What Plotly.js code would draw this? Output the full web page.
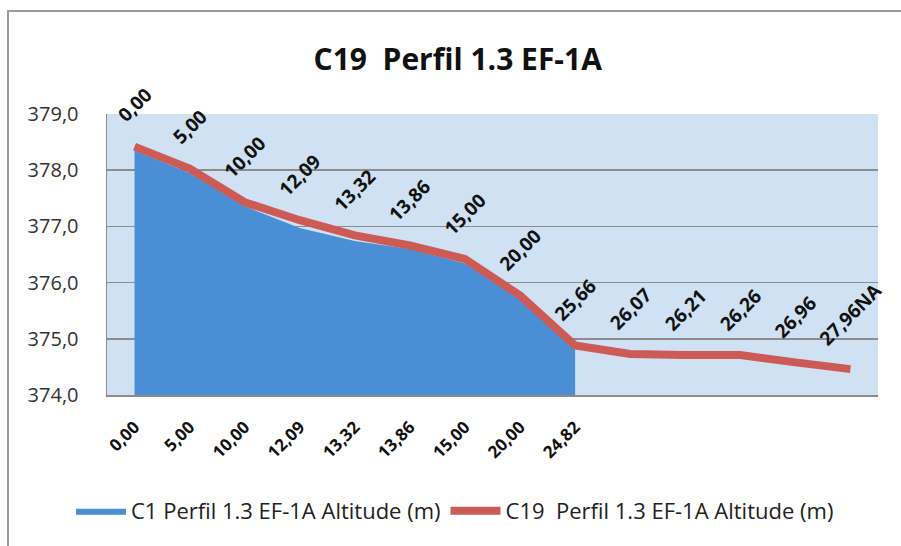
<!DOCTYPE html>
<html>
<head>
<meta charset="utf-8">
<script src="https://cdn.plot.ly/plotly-3.0.1.min.js"></script>
<style>
  html, body { margin: 0; padding: 0; background: #fff; }
  #wrap { position: relative; width: 901px; height: 546px; overflow: hidden; }
  #chart { width: 901px; height: 546px; }
  #frame { position: absolute; left: 7px; top: 10px; width: 1000px; height: 1000px;
           border-left: 2px solid #9c9c9c; border-top: 2px solid #9c9c9c; pointer-events: none; }
</style>
</head>
<body>
<div id="wrap">
  <div id="chart"></div>
  <div id="frame"></div>
</div>
<script>
// Category labels on the bottom axis (first series)
const axisCategories = ['0,00', '5,00', '10,00', '12,09', '13,32', '13,86', '15,00', '20,00', '24,82'];
// Area series: C1 Perfil 1.3 EF-1A Altitude (m)
const c1Altitude = [378.35, 377.95, 377.36, 376.97, 376.74, 376.60, 376.34, 375.70, 374.82];
// Line series data labels: C19 Perfil 1.3 EF-1A Altitude (m)
const c19Labels = ['0,00', '5,00', '10,00', '12,09', '13,32', '13,86', '15,00', '20,00', '25,66', '26,07', '26,21', '26,26', '26,96', '27,96NA'];
const c19Altitude = [378.42, 378.03, 377.43, 377.11, 376.84, 376.66, 376.42, 375.77, 374.88, 374.73, 374.71, 374.71, 374.58, 374.46];
const seriesNames = ['C1 Perfil 1.3 EF-1A Altitude (m)', 'C19\u00a0 Perfil 1.3 EF-1A Altitude (m)'];
const chartTitle = 'C19\u00a0 Perfil 1.3 EF-1A';

const FONT = 'Open Sans, Noto Sans, DejaVu Sans, sans-serif';

const areaTrace = {
  x: c1Altitude.map((_, i) => i),
  y: c1Altitude,
  name: seriesNames[0],
  type: 'scatter',
  mode: 'lines',
  fill: 'tozeroy',
  fillcolor: '#4A8FD6',
  line: { width: 0, color: '#4A8FD6' },
  hoverinfo: 'skip'
};

const lineTrace = {
  x: c19Altitude.map((_, i) => i),
  y: c19Altitude,
  name: seriesNames[1],
  type: 'scatter',
  mode: 'lines',
  line: { width: 8, color: '#CD5B55' },
  hoverinfo: 'skip'
};

const annotations = c19Labels.map((lab, i) => ({
  x: i,
  y: c19Altitude[i],
  xref: 'x',
  yref: 'y',
  text: '<b>' + lab + '</b>',
  showarrow: false,
  textangle: -45,
  xanchor: 'center',
  yanchor: 'bottom',
  yshift: 16,
  font: { family: FONT, size: 19, color: '#111' }
}));

const layout = {
  width: 901,
  height: 546,
  paper_bgcolor: '#ffffff',
  plot_bgcolor: '#D0E1F3',
  separators: ', ',
  margin: { l: 107, r: 23, t: 114, b: 151, pad: 0 },
  font: { family: FONT, color: '#222' },
  title: {
    text: '<b>' + chartTitle + '</b>',
    font: { family: FONT, size: 30, color: '#111' },
    x: 0.508,
    xref: 'container',
    xanchor: 'center',
    y: 1 - 59 / 546,
    yref: 'container',
    yanchor: 'middle'
  },
  xaxis: {
    range: [-0.5, 13.5],
    tickmode: 'array',
    tickvals: axisCategories.map((_, i) => i),
    ticktext: axisCategories.map(t => '<b>' + t + '</b>'),
    tickangle: -45,
    tickfont: { family: FONT, size: 17, color: '#111' },
    ticks: '',
    ticklabelstandoff: 14,
    showgrid: false,
    zeroline: false,
    showline: true,
    linecolor: '#8c8c8c',
    linewidth: 1.5,
    fixedrange: true
  },
  yaxis: {
    range: [374, 379],
    tickmode: 'linear',
    tick0: 374,
    dtick: 1,
    tickformat: '.1f',
    tickfont: { family: FONT, size: 20, color: '#333' },
    ticks: '',
    ticklabelstandoff: 23,
    showgrid: true,
    gridcolor: '#8c8c8c',
    gridwidth: 1.5,
    zeroline: false,
    showline: true,
    linecolor: '#8c8c8c',
    linewidth: 1.5,
    fixedrange: true
  },
  showlegend: true,
  legend: {
    orientation: 'h',
    x: 71 / 901,
    xref: 'container',
    xanchor: 'left',
    y: 1 - 511 / 546,
    yref: 'container',
    yanchor: 'middle',
    font: { family: FONT, size: 22, color: '#222' },
    itemwidth: 50,
    bgcolor: 'rgba(0,0,0,0)',
    traceorder: 'normal'
  },
  annotations: annotations
};

Plotly.newPlot('chart', [areaTrace, lineTrace], layout, { staticPlot: true, displayModeBar: false });
</script>
</body>
</html>
